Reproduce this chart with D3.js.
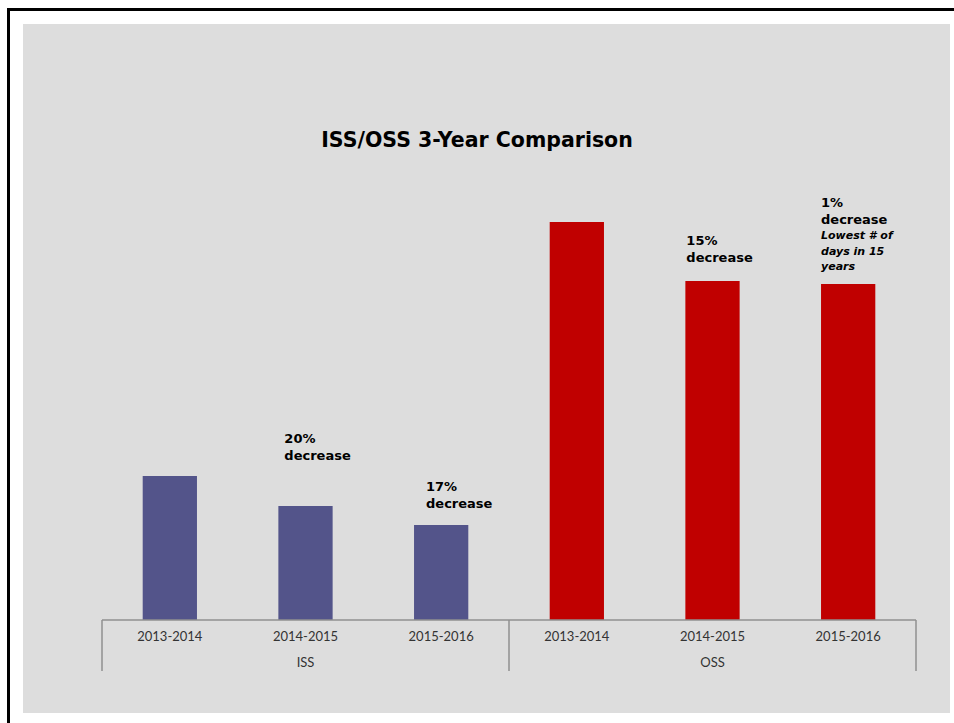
<!DOCTYPE html>
<html>
<head>
<meta charset="utf-8">
<script src="https://cdn.jsdelivr.net/npm/d3@7"></script>
<style>
  body { margin: 0; background: #fff; }
  text { font-family: "Century Gothic", Lato, "Open Sans", sans-serif; }
  .bold { font-family: "Century Gothic", "DejaVu Sans", sans-serif; }
</style>
</head>
<body>
<div id="chart"></div>
<script>
let w = 954;
let h = 723;

// data (bar heights, no y axis shown)
const groups = ["ISS", "OSS"];
const periods = ["2013-2014", "2014-2015", "2015-2016"];
const issValues = [1440, 1140, 950];
const ossValues = [3980, 3390, 3360];
const notes = [
  [], [["20%", "decrease"]], [["17%", "decrease"]],
  [], [["15%", "decrease"]], [["1%", "decrease"], ["Lowest # of", "days in 15", "years"]]
];

// label placement relative to bar (left offset, baseline of last line above bar top)
const noteDx = [0, 6, 12, 0, 1, 0];
const noteDy = [0, 46, 17, 0, 19, 14];

let rows = [];
groups.forEach((g, gi) => {
  let vals = gi === 0 ? issValues : ossValues;
  periods.forEach((p, pi) => {
    rows.push({ key: g + "|" + p, group: g, period: p, value: vals[pi], color: gi === 0 ? "#53548a" : "#c00000" });
  });
});

let svg = d3.select("#chart")
  .append("svg")
  .attr("width", w)
  .attr("height", h);

// outer frame
svg.append("rect").attr("x", 23).attr("y", 24).attr("width", 927).attr("height", 689).attr("fill", "#dddddd");
svg.append("path")
  .attr("d", "M8.5," + h + "V9.5H" + w)
  .attr("fill", "none")
  .attr("stroke", "#000")
  .attr("stroke-width", 3);

let x0 = 102, x1 = 916, base = 620;

let xScale = d3.scaleBand()
  .domain(rows.map(d => d.key))
  .range([x0, x1])
  .paddingInner(0.6)
  .paddingOuter(0.3);

let yScale = d3.scaleLinear()
  .domain([0, 4400])
  .range([base, base - 440]);

// title
svg.append("text")
  .attr("class", "bold")
  .attr("x", 477)
  .attr("y", 147)
  .attr("text-anchor", "middle")
  .style("font-size", "20.5px")
  .style("font-weight", "bold")
  .style("fill", "#000")
  .text("ISS/OSS 3-Year Comparison");

// bars
svg.selectAll("rect.bar")
  .data(rows)
  .enter()
  .append("rect")
  .attr("class", "bar")
  .attr("x", d => xScale(d.key))
  .attr("y", d => yScale(d.value))
  .attr("width", xScale.bandwidth())
  .attr("height", d => base - yScale(d.value))
  .attr("fill", d => d.color);

// axis: line + group separators
let axisColor = "#8f8f8f";
svg.append("line")
  .attr("x1", x0).attr("x2", x1)
  .attr("y1", base).attr("y2", base)
  .attr("stroke", axisColor).attr("stroke-width", 1.5);

let groupEdges = [x0, (x0 + x1) / 2, x1];
svg.selectAll("line.sep")
  .data(groupEdges)
  .enter()
  .append("line")
  .attr("class", "sep")
  .attr("x1", d => d).attr("x2", d => d)
  .attr("y1", base).attr("y2", 671)
  .attr("stroke", axisColor).attr("stroke-width", 1.5);

// period labels
svg.selectAll("text.tick")
  .data(rows)
  .enter()
  .append("text")
  .attr("class", "tick")
  .attr("x", d => xScale(d.key) + xScale.bandwidth() / 2)
  .attr("y", 641)
  .attr("text-anchor", "middle")
  .style("font-size", "13px")
  .style("fill", "#333")
  .text(d => d.period);

// group labels
svg.selectAll("text.group")
  .data(groups)
  .enter()
  .append("text")
  .attr("class", "group")
  .attr("x", (d, i) => (groupEdges[i] + groupEdges[i + 1]) / 2)
  .attr("y", 667)
  .attr("text-anchor", "middle")
  .style("font-size", "13px")
  .style("fill", "#333")
  .text(d => d);

// annotations
rows.forEach((d, i) => {
  let blocks = notes[i];
  if (!blocks.length) return;
  let lines = [];
  blocks.forEach((b, bi) => b.forEach(t => lines.push({ t: t, italic: bi > 0 })));
  let bx = xScale(d.key) + noteDx[i];
  let y = yScale(d.value) - noteDy[i];
  let ys = [];
  for (let k = lines.length - 1; k >= 0; k--) {
    ys[k] = y;
    y -= lines[k].italic ? 15.5 : 17;
  }
  let t = svg.append("text").attr("class", "bold").style("font-weight", "bold").style("fill", "#000");
  lines.forEach((l, k) => {
    t.append("tspan")
      .attr("x", bx)
      .attr("y", ys[k])
      .style("font-size", l.italic ? "11px" : "13px")
      .style("font-style", l.italic ? "italic" : "normal")
      .text(l.t);
  });
});
</script>
</body>
</html>
